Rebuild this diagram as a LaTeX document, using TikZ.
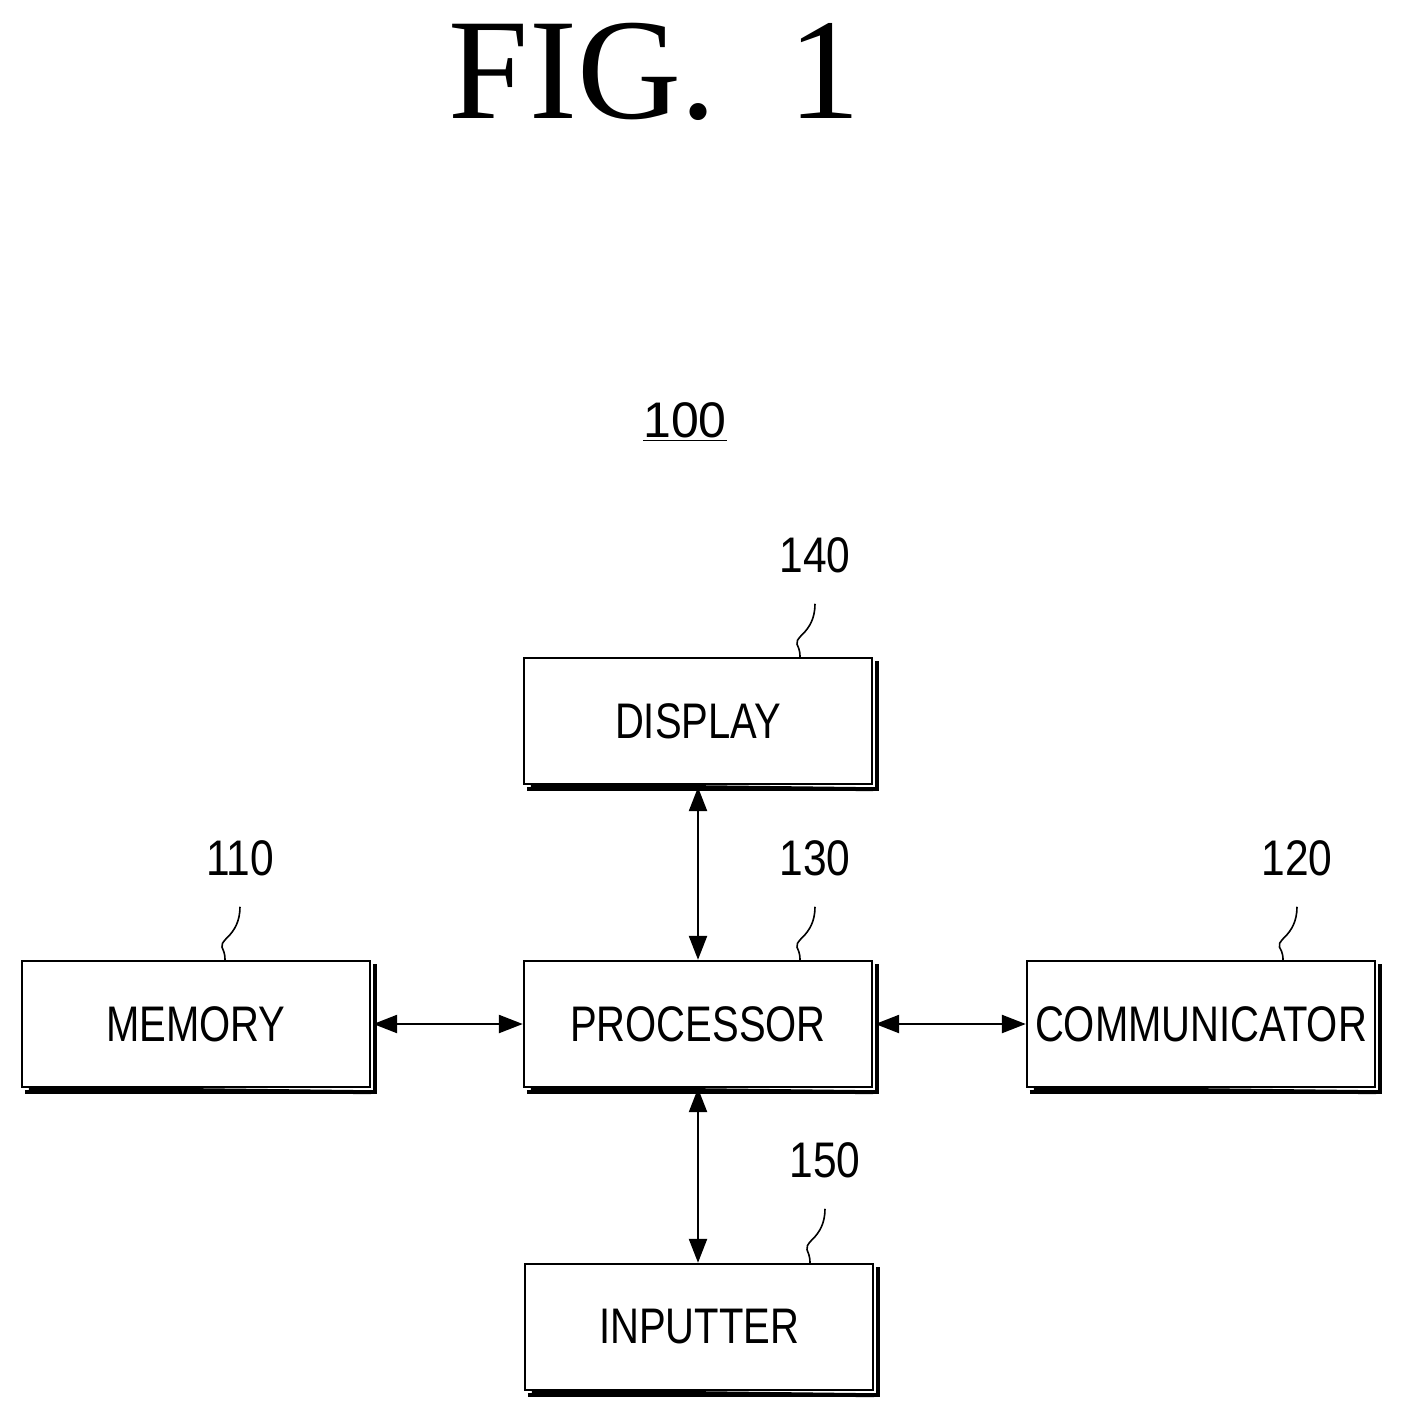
\documentclass[tikz,border=0pt]{standalone}
\usepackage{fontspec}
\setmainfont{Liberation Sans}
\newfontfamily\figfont{Liberation Serif}
\usetikzlibrary{arrows.meta}
\begin{document}
\begin{tikzpicture}[x=0.5pt,y=-0.5pt,
  box/.style={draw,line width=1.2pt,minimum width=174pt,minimum height=63pt,inner sep=0pt,
    font=\fontsize{25}{25}\selectfont},
  shadow/.style={line width=2pt},
  lbl/.style={font=\fontsize{25}{25}\selectfont},
  lead/.style={line width=0.8pt},
  arr/.style={line width=1.2pt,{Triangle[length=12pt,width=9pt]}-{Triangle[length=12pt,width=9pt]}}]
\useasboundingbox (0,0) rectangle (1401,1416);
\node[font=\figfont\fontsize{72}{72}\selectfont] (fig) at (655,72) {FIG.\ \ 1};
\node[lbl] (l100) at (685,422) {\underline{100}};
\node[box] (disp) at (698,721) {\scalebox{0.8}[1]{DISPLAY}};
\node[box] (proc) at (698,1024) {\scalebox{0.8}[1]{PROCESSOR}};
\node[box] (mem) at (196,1024) {\scalebox{0.8}[1]{MEMORY}};
\node[box] (comm) at (1201,1024) {\scalebox{0.8}[1]{COMMUNICATOR}};
\node[box] (inp) at (699,1327) {\scalebox{0.8}[1]{INPUTTER}};
\foreach \n in {disp,proc,mem,comm,inp}{
  \draw[shadow] ([xshift=4pt]\n.south west) -- ([yshift=-2pt]\n.south east) ;
  \draw[shadow] ([xshift=2pt,yshift=-2pt]\n.south west) -- ([xshift=2pt,yshift=-2pt]\n.south east) -- ([xshift=2pt,yshift=-2pt]\n.north east);
}
\node[lbl] (l140) at (815,555) {\scalebox{0.85}[1]{140}};
\node[lbl] (l110) at (240,858) {\scalebox{0.85}[1]{110}};
\node[lbl] (l130) at (815,858) {\scalebox{0.85}[1]{130}};
\node[lbl] (l120) at (1297,858) {\scalebox{0.85}[1]{120}};
\node[lbl] (l150) at (825,1160) {\scalebox{0.85}[1]{150}};
\foreach \l/\b/\x in {l140/disp/800,l130/proc/800,l110/mem/225,l120/comm/1283,l150/inp/810}{
  \coordinate (e\l) at (\x,0);
  \draw[lead] ([yshift=-12pt]\l.south) .. controls +(0,15) and +(6,-6) .. +(-12,30)
     .. controls +(-12,12) and +(0,-15) .. (\b.north -| e\l);
}
\draw[arr] (disp.south) ++(0,2) coordinate (a1) -- (proc.north);
\draw[arr] (proc.south) -- (inp.north -| proc.south);
\draw[arr] (mem.east) ++(2,0) -- (proc.west);
\draw[arr] (proc.east) ++(2,0) -- (comm.west);
\end{tikzpicture}
\end{document}
